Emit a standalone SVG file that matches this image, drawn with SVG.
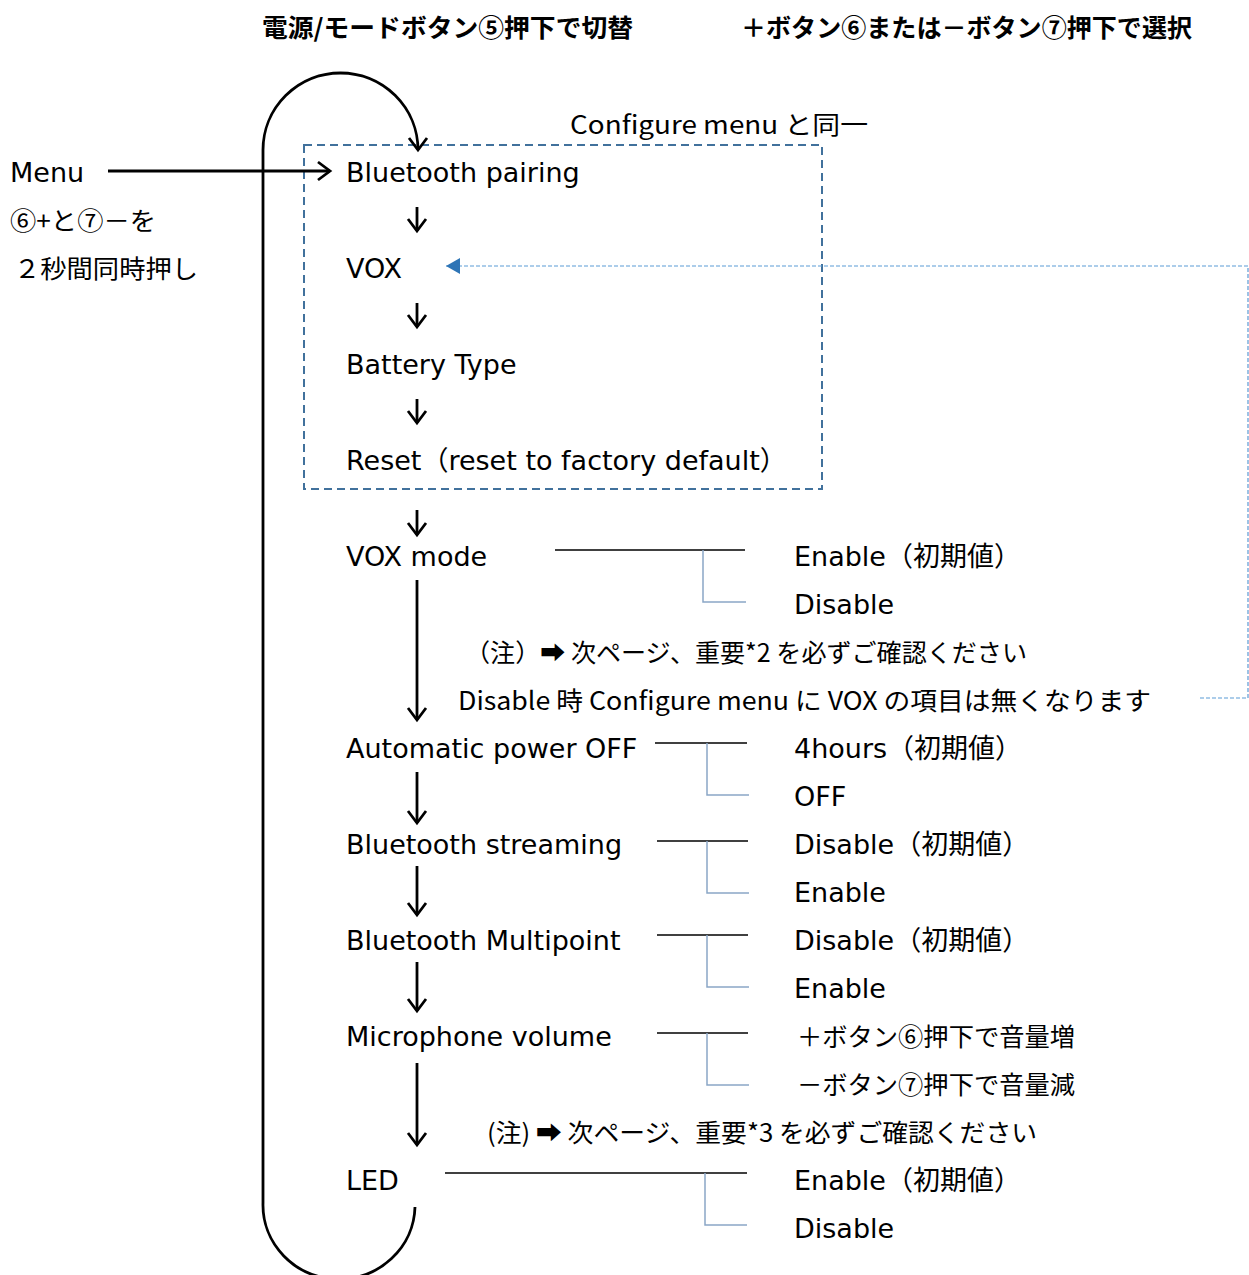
<svg xmlns="http://www.w3.org/2000/svg" width="1249" height="1275" viewBox="0 0 1249 1275">
<style>
.t{font-family:"DejaVu Sans","Noto Sans CJK JP",sans-serif;font-size:27px;fill:#000}
.j{font-family:"Noto Sans CJK JP","DejaVu Sans",sans-serif;font-size:25px;fill:#000}
.h{font-family:"Noto Sans CJK JP",sans-serif;font-size:25px;font-weight:bold;fill:#000}
.ar{stroke:#000;stroke-width:2.8;fill:none;marker-end:url(#ah)}
.br{stroke:#000;stroke-width:1.3;fill:none}
.bv{stroke:#8aa6c6;stroke-width:1.5;fill:none}
</style>
<defs>
<marker id="ah" markerUnits="userSpaceOnUse" markerWidth="24" markerHeight="24" refX="14" refY="9" orient="auto" overflow="visible">
<path d="M2,0 L14,9 L2,18" fill="none" stroke="#000" stroke-width="2.8"/>
</marker>
<marker id="bt" markerUnits="userSpaceOnUse" markerWidth="20" markerHeight="20" refX="14" refY="8" orient="auto" overflow="visible">
<path d="M0,0 L14,8 L0,16 Z" fill="#2e75b6"/>
</marker>
</defs>

<g id="titles">
<text class="h" x="262" y="37" textLength="371" lengthAdjust="spacingAndGlyphs">電源/モードボタン⑤押下で切替</text>
<text class="h" x="741" y="37" textLength="451" lengthAdjust="spacingAndGlyphs">＋ボタン⑥または－ボタン⑦押下で選択</text>
</g>

<g id="menu-label">
<text class="t" x="10" y="182">Menu</text>
<text class="j" x="10" y="230" textLength="146" lengthAdjust="spacingAndGlyphs">⑥+と⑦－を</text>
<text class="j" x="14" y="278" textLength="184" lengthAdjust="spacingAndGlyphs">２秒間同時押し</text>
</g>

<g id="configure-box">
<rect x="304" y="145" width="518" height="344" fill="none" stroke="#41719c" stroke-width="2" stroke-dasharray="8,5"/>
<text class="j" x="570" y="134" textLength="298" lengthAdjust="spacingAndGlyphs">Configure menu と同一</text>
</g>

<g id="n-bt-pairing"><text class="t" x="346" y="182">Bluetooth pairing</text></g>
<g id="n-vox"><text class="t" x="346" y="278">VOX</text></g>
<g id="n-battery"><text class="t" x="346" y="374">Battery Type</text></g>
<g id="n-reset"><text class="t" x="346" y="470">Reset（reset to factory default）</text></g>
<g id="n-vox-mode"><text class="t" x="346" y="566">VOX mode</text></g>
<g id="n-apo"><text class="t" x="346" y="758">Automatic power OFF</text></g>
<g id="n-streaming"><text class="t" x="346" y="854">Bluetooth streaming</text></g>
<g id="n-multipoint"><text class="t" x="346" y="950">Bluetooth Multipoint</text></g>
<g id="n-mic"><text class="t" x="346" y="1046">Microphone volume</text></g>
<g id="n-led"><text class="t" x="346" y="1190">LED</text></g>

<g id="options">
<text class="t" x="794" y="566">Enable（初期値）</text>
<text class="t" x="794" y="614">Disable</text>
<text class="t" x="794" y="758">4hours（初期値）</text>
<text class="t" x="794" y="806">OFF</text>
<text class="t" x="794" y="854">Disable（初期値）</text>
<text class="t" x="794" y="902">Enable</text>
<text class="t" x="794" y="950">Disable（初期値）</text>
<text class="t" x="794" y="998">Enable</text>
<text class="j" x="797" y="1046" textLength="278" lengthAdjust="spacingAndGlyphs">＋ボタン⑥押下で音量増</text>
<text class="j" x="797" y="1094" textLength="278" lengthAdjust="spacingAndGlyphs">－ボタン⑦押下で音量減</text>
<text class="t" x="794" y="1190">Enable（初期値）</text>
<text class="t" x="794" y="1238">Disable</text>
</g>

<g id="notes">
<text class="j" x="465" y="662" textLength="562" lengthAdjust="spacingAndGlyphs">（注）➡ 次ページ、重要*2 を必ずご確認ください</text>
<text class="j" x="458" y="710" textLength="693" lengthAdjust="spacingAndGlyphs">Disable 時 Configure menu に VOX の項目は無くなります</text>
<text class="j" x="487" y="1142" textLength="550" lengthAdjust="spacingAndGlyphs">(注) ➡ 次ページ、重要*3 を必ずご確認ください</text>
</g>

<g id="connectors">
<path d="M263,1203 L263,150 A77.5,77 0 0 1 418,150" class="ar"/>
<path d="M263,1203 A76,74 0 0 0 415,1207" fill="none" stroke="#000" stroke-width="2.8"/>
<path d="M108,171 L330,171" class="ar" stroke-width="2.2"/>
<path d="M417,207 L417,231" class="ar"/>
<path d="M417,303 L417,327" class="ar"/>
<path d="M417,399 L417,423" class="ar"/>
<path d="M417,510 L417,535" class="ar"/>
<path d="M417,580 L417,720" class="ar"/>
<path d="M417,772 L417,823" class="ar"/>
<path d="M417,866 L417,915" class="ar"/>
<path d="M417,962 L417,1011" class="ar"/>
<path d="M417,1063 L417,1145" class="ar"/>
<path d="M555,550 L745,550" class="br"/><path d="M703,550 L703,602 L746,602" class="bv"/>
<path d="M655,743 L747,743" class="br"/><path d="M707,743 L707,795 L749,795" class="bv"/>
<path d="M657,841 L748,841" class="br"/><path d="M707,841 L707,893 L749,893" class="bv"/>
<path d="M657,935 L748,935" class="br"/><path d="M707,935 L707,987 L749,987" class="bv"/>
<path d="M657,1033 L748,1033" class="br"/><path d="M707,1033 L707,1085 L749,1085" class="bv"/>
<path d="M445,1173 L747,1173" class="br"/><path d="M705,1173 L705,1225 L747,1225" class="bv"/>
<path d="M1200,698 L1248,698 L1248,266 L446,266" fill="none" stroke="#5b9bd5" stroke-width="1.2" stroke-dasharray="4,2" marker-end="url(#bt)"/>
</g>
</svg>
